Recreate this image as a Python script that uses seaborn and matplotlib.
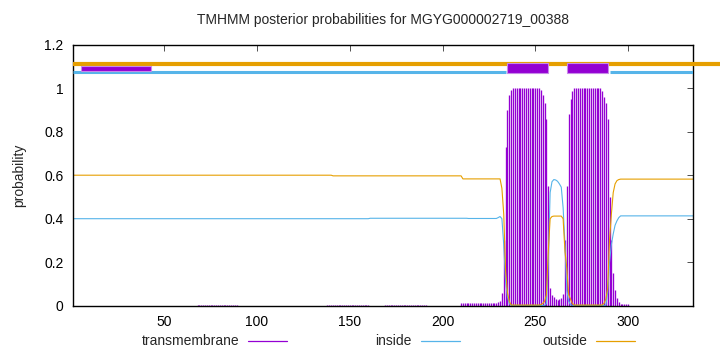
import matplotlib
matplotlib.use("Agg")
import matplotlib.pyplot as plt
from matplotlib.lines import Line2D
from matplotlib.patches import Rectangle
import seaborn as sns
import pandas as pd

# ---------------- data ----------------
residues = list(range(1, 336))

outside = ([0.600] * 140 + [0.597] * 70 + [0.583] * 21           # 1-231
           + [0.54, 0.42, 0.16, 0.06, 0.02]                       # 232-236
           + [0.003] * 16                                          # 237-252
           + [0.005, 0.01, 0.02, 0.05, 0.25, 0.40, 0.41]          # 253-259
           + [0.412] * 5                                           # 260-264
           + [0.40, 0.25, 0.17, 0.05, 0.03, 0.01]                  # 265-270
           + [0.003] * 16                                          # 271-286
           + [0.01, 0.03, 0.08, 0.30, 0.42, 0.52, 0.56, 0.575, 0.58]  # 287-295
           + [0.582] * 40)                                         # 296-335

inside = ([0.400] * 160 + [0.402] * 53 + [0.401] * 16             # 1-229
          + [0.405, 0.41, 0.40, 0.28, 0.11, 0.04, 0.01]            # 230-236
          + [0.001] * 19                                           # 237-255
          + [0.01, 0.20, 0.52, 0.57, 0.58, 0.578, 0.572, 0.56, 0.545,
             0.45, 0.28, 0.07, 0.02, 0.005]                        # 256-269
          + [0.001] * 19                                           # 270-288
          + [0.06, 0.20, 0.28, 0.33, 0.37, 0.39, 0.405]            # 289-295
          + [0.413] * 40)                                          # 296-335

transmembrane = ([0.0] * 67 + [0.002] * 22 + [0.0] * 48 + [0.003] * 23
                 + [0.0] * 8 + [0.003] * 23 + [0.0] * 18           # 1-209
                 + [0.012] * 20                                    # 210-229
                 + [0.015, 0.02, 0.06, 0.30, 0.73, 0.90, 0.97, 0.99]  # 230-237
                 + [1.0] * 15                                      # 238-252
                 + [0.99, 0.97, 0.93, 0.86, 0.55, 0.08, 0.05, 0.04, 0.03,
                    0.025, 0.03, 0.035, 0.055, 0.30, 0.55, 0.88, 0.95, 0.985]  # 253-270
                 + [1.0] * 15                                      # 271-285
                 + [0.985, 0.96, 0.93, 0.86, 0.50, 0.30, 0.15, 0.07, 0.035,
                    0.015, 0.008, 0.008, 0.008, 0.008, 0.008]      # 286-300
                 + [0.0] * 35)                                     # 301-335

# top topology annotation
outside_top_start = [1]
outside_top_end = [350]
inside_top_start = [1, 290]
inside_top_end = [234, 335]
tm_box_start = [5, 235, 267]
tm_box_end = [43, 257, 289]
tm_box_bottom = [1.080, 1.069, 1.069]
tm_box_top = [1.103, 1.115, 1.115]
outside_top_level = 1.111
inside_top_level = 1.073

title = "TMHMM posterior probabilities for MGYG000002719_00388"
xticks = [50, 100, 150, 200, 250, 300]
yticks = [0, 0.2, 0.4, 0.6, 0.8, 1.0, 1.2]
yticklabels = ["0", "0.2", "0.4", "0.6", "0.8", "1", "1.2"]

# ---------------- style ----------------
sns.set_style("white")
plt.rcParams["font.family"] = ["Liberation Sans", "DejaVu Sans"]
FS = 10

C_TM = "#9400D3"
C_IN = "#56B4E9"
C_OUT = "#E69F00"

df = pd.DataFrame({"residue": residues, "inside": inside, "outside": outside,
                   "transmembrane": transmembrane})

fig = plt.figure(figsize=(7.2, 3.52), dpi=100)
ax = fig.add_axes([73.3 / 720, 1 - 305.7 / 352, (693 - 73.3) / 720, (305.7 - 44.7) / 352])

ax.vlines(df["residue"], 0, df["transmembrane"], color=C_TM, linewidth=0.95)
sns.lineplot(data=df, x="residue", y="inside", color=C_IN, linewidth=0.8, ax=ax)
sns.lineplot(data=df, x="residue", y="outside", color=C_OUT, linewidth=0.8, ax=ax)

for s, e in zip(outside_top_start, outside_top_end):
    ax.plot([s, e], [outside_top_level] * 2, color=C_OUT, linewidth=3.0,
            solid_capstyle="butt", clip_on=False, zorder=3)
for s, e in zip(inside_top_start, inside_top_end):
    ax.plot([s, e], [inside_top_level] * 2, color=C_IN, linewidth=2.2,
            solid_capstyle="butt", zorder=3)
for s, e, b, t in zip(tm_box_start, tm_box_end, tm_box_bottom, tm_box_top):
    ax.add_patch(Rectangle((s, b), e - s, t - b, facecolor=C_TM,
                           edgecolor="#c78ae8", linewidth=0.8, zorder=4))

ax.set_xlim(1, 335)
ax.set_ylim(0, 1.2)
ax.set_xticks(xticks)
ax.set_xticklabels([str(v) for v in xticks], fontsize=FS)
ax.set_yticks(yticks)
ax.set_yticklabels(yticklabels, fontsize=FS)
ax.tick_params(direction="in", length=4, width=0.6, top=True, right=True,
               colors="#333333", labelcolor="black", pad=7)
ax.set_xlabel("")
ax.set_ylabel("probability", fontsize=FS, labelpad=13)
for sp in ax.spines.values():
    sp.set_color("black")
    sp.set_linewidth(1.0)
    sp.set_visible(True)

fig.text(0.5 * (73.3 + 693) / 720, 1 - 20 / 352, title, ha="center", va="center", fontsize=FS)

# legend (gnuplot style: text then sample)
legend_items = [("transmembrane", C_TM, 239, 248, 287),
                ("inside", C_IN, 412, 421, 460),
                ("outside", C_OUT, 587, 596, 635)]
ly = 1 - 341 / 352
for label, col, tx, x0, x1 in legend_items:
    fig.text(tx / 720, ly, label, ha="right", va="center", fontsize=FS)
    fig.add_artist(Line2D([x0 / 720, x1 / 720], [ly, ly], color=col, linewidth=0.9,
                          transform=fig.transFigure))

fig.savefig("out.png", dpi=100)
